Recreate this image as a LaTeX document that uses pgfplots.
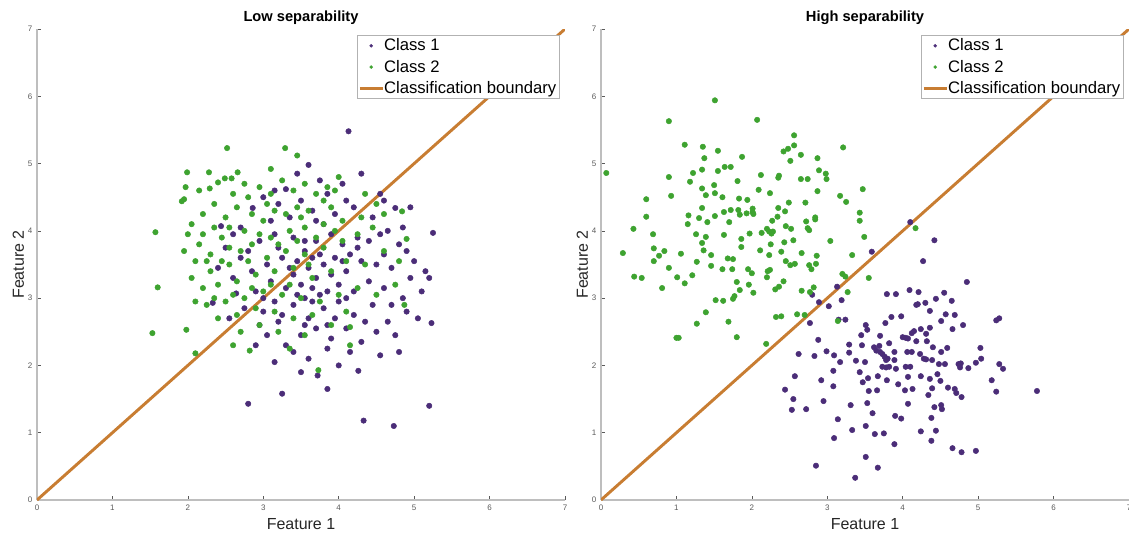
\documentclass[border=0pt]{standalone}
\usepackage{pgfplots}
\usepackage{pgfplotstable}
\pgfplotsset{compat=1.18}
\usepackage{fontspec}
\setmainfont{Liberation Sans}
\definecolor{cpurple}{RGB}{75,45,120}
\definecolor{cgreen}{RGB}{62,163,48}
\definecolor{corange}{RGB}{200,125,50}
\definecolor{caxis}{RGB}{190,190,190}
\definecolor{ctick}{RGB}{90,90,90}
\definecolor{clabel}{RGB}{38,38,38}

\pgfplotstableread{
x y
4.13 5.48
3.60 4.98
3.75 4.75
3.30 4.62
3.45 4.85
4.30 4.85
4.05 4.70
3.85 4.55
3.00 4.50
3.20 4.40
2.86 4.34
4.75 4.34
4.55 4.55
3.50 4.45
3.65 4.30
4.20 4.35
4.45 4.20
2.44 4.07
3.10 4.15
3.35 4.20
3.95 4.25
4.85 4.05
4.65 4.00
5.25 3.97
2.70 4.05
4.10 4.45
3.80 4.10
2.50 3.75
2.70 3.60
2.95 3.85
3.15 3.95
3.40 3.90
3.55 3.70
3.70 3.85
3.90 3.95
4.05 3.80
4.25 3.75
4.40 3.85
4.60 3.65
4.80 3.80
5.00 3.55
5.15 3.40
4.95 3.30
4.70 3.45
4.50 3.50
4.30 3.55
4.10 3.40
3.95 3.60
3.80 3.50
3.60 3.45
3.45 3.55
3.25 3.60
3.05 3.50
2.85 3.40
2.60 3.30
2.40 3.45
2.64 3.07
2.33 2.93
2.90 3.10
3.10 3.25
3.30 3.15
3.50 3.20
3.70 3.30
3.85 3.10
4.00 3.20
4.20 3.10
4.40 3.25
4.60 3.15
4.85 3.00
5.10 3.10
5.20 3.30
3.55 3.00
3.75 3.05
3.40 3.35
3.65 3.60
3.20 3.75
2.80 3.70
4.15 3.65
4.55 3.95
4.90 3.70
2.75 2.85
3.00 2.80
3.20 2.65
3.40 2.90
3.60 2.70
3.80 2.85
4.00 2.95
4.20 2.75
4.45 2.90
4.65 2.65
4.90 2.80
5.05 2.70
5.23 2.63
4.75 2.45
4.50 2.50
4.30 2.35
4.10 2.55
3.90 2.40
3.70 2.55
3.50 2.45
3.30 2.30
3.05 2.45
2.90 2.30
3.15 2.05
3.40 2.20
3.60 2.10
3.85 2.25
4.00 2.00
4.26 1.92
4.55 2.15
3.72 1.85
3.50 1.90
3.85 1.65
3.25 1.58
2.80 1.43
4.33 1.18
4.73 1.10
5.20 1.40
3.95 2.70
3.15 2.95
2.95 2.60
4.80 2.20
4.35 2.65
3.65 2.95
4.10 3.00
3.55 3.85
3.75 3.65
3.35 3.45
3.90 3.35
4.05 3.55
3.45 3.05
3.65 3.15
3.25 2.75
3.85 2.60
4.25 3.90
3.15 4.60
3.70 4.15
2.60 3.95
4.60 4.45
4.95 4.35
3.00 3.00
4.70 2.90
4.15 2.20
3.55 2.60
2.55 2.70
}\lowA

\pgfplotstableread{
x y
1.53 2.48
1.57 3.98
1.60 3.16
1.98 2.53
2.10 2.18
2.52 5.23
3.29 5.23
3.45 5.12
2.82 2.22
3.73 1.93
4.15 2.30
4.15 2.57
4.84 4.29
4.90 3.88
4.87 2.90
1.99 4.87
1.97 4.65
1.95 4.47
2.28 4.87
2.29 4.63
2.40 4.72
2.49 4.78
2.58 4.78
2.66 4.87
3.10 4.92
1.92 4.44
2.05 4.10
2.20 4.25
2.35 4.05
2.50 4.20
2.65 4.35
2.80 4.50
2.95 4.65
3.10 4.55
3.25 4.75
3.40 4.60
3.55 4.70
3.70 4.55
3.85 4.65
4.00 4.80
3.90 4.35
3.60 4.30
3.30 4.25
3.00 4.15
2.75 4.00
2.45 3.90
2.15 3.80
1.95 3.70
2.10 3.55
2.30 3.65
2.55 3.75
2.85 3.80
3.10 3.90
3.35 4.00
3.55 4.05
3.80 4.10
4.05 4.15
4.30 4.20
4.45 4.05
4.60 4.25
4.25 3.95
4.05 3.85
3.80 3.75
3.55 3.65
3.30 3.70
3.05 3.60
2.80 3.55
2.55 3.50
2.30 3.40
2.05 3.30
2.20 3.15
2.40 3.20
2.65 3.25
2.90 3.35
3.15 3.40
3.40 3.45
3.65 3.30
3.90 3.40
4.10 3.55
4.35 3.50
4.60 3.70
4.80 3.55
4.75 3.20
4.50 3.05
4.25 3.15
4.00 3.05
3.75 2.95
3.50 3.00
3.25 3.05
3.00 3.10
2.75 3.00
2.50 2.95
2.25 2.90
2.40 2.70
2.65 2.75
2.90 2.85
3.15 2.80
3.40 2.70
3.65 2.75
3.90 2.60
4.10 2.80
3.55 2.45
3.20 2.50
2.95 2.60
2.70 2.50
2.60 2.30
3.35 2.25
2.15 4.60
2.35 4.40
2.60 4.55
2.85 4.25
3.15 4.30
3.45 4.35
3.70 3.90
3.95 4.00
2.45 3.55
2.70 3.70
2.95 3.95
3.20 3.80
3.45 3.85
2.20 3.95
2.00 3.95
2.60 3.05
2.85 3.15
3.10 3.20
3.35 3.20
3.60 3.50
2.35 3.00
2.10 2.95
2.55 4.05
3.05 4.40
3.50 4.20
3.80 4.45
2.25 3.55
2.75 4.70
4.35 4.55
4.50 4.40
3.95 4.60
}\lowB

\pgfplotstableread{
x y
3.59 3.69
4.27 3.55
4.85 3.24
2.80 3.05
2.89 2.94
3.02 2.88
3.19 2.97
3.13 3.17
3.15 2.68
3.24 2.68
2.77 2.63
2.88 2.38
2.62 2.17
2.83 2.14
2.57 1.84
2.44 1.64
2.55 1.50
2.53 1.34
2.72 1.35
2.92 1.78
2.95 1.47
2.99 2.21
3.08 1.92
3.08 1.69
3.09 2.15
3.17 2.05
3.09 0.92
3.14 1.20
2.85 0.51
3.29 2.31
3.29 2.19
3.31 1.41
3.33 1.04
3.38 2.07
3.43 1.90
3.45 2.45
3.46 2.30
3.47 1.75
3.50 2.05
3.51 2.60
3.53 2.53
3.54 1.81
3.55 1.62
3.53 1.44
3.51 1.10
3.51 0.64
3.37 0.33
3.60 1.29
3.63 0.98
3.66 1.63
3.67 0.48
3.62 2.27
3.65 2.22
3.70 2.20
3.73 2.17
3.76 2.13
3.78 2.08
3.80 2.10
3.82 1.98
3.78 1.97
3.73 1.98
3.70 2.44
3.69 2.29
3.67 1.84
3.75 0.99
3.77 2.63
3.79 1.78
3.79 3.06
3.82 2.33
3.85 2.72
3.89 0.83
3.89 2.20
3.89 2.08
3.91 1.95
3.91 3.06
3.90 1.25
3.94 1.72
3.98 2.73
3.98 1.21
4.00 2.42
4.04 2.41
4.07 2.40
4.03 1.63
4.07 1.43
4.06 2.20
4.04 1.98
4.07 1.83
4.09 3.12
4.13 1.65
4.12 2.20
4.10 1.98
4.12 2.48
4.15 2.51
4.18 2.36
4.18 2.90
4.21 3.09
4.20 2.91
4.23 2.17
4.24 2.54
4.24 1.84
4.24 1.02
4.28 2.10
4.31 2.09
4.30 2.93
4.31 2.47
4.32 2.36
4.34 1.56
4.36 2.81
4.36 2.56
4.39 2.08
4.36 1.80
4.40 2.27
4.39 1.66
4.38 1.22
4.38 0.88
4.42 1.38
4.44 2.99
4.44 1.03
4.46 1.87
4.48 2.02
4.50 1.77
4.51 2.66
4.51 1.41
4.52 1.35
4.51 2.20
4.55 3.08
4.57 2.76
4.56 2.02
4.59 2.26
4.60 1.67
4.65 2.96
4.66 2.54
4.66 0.77
4.69 2.75
4.69 1.65
4.71 1.59
4.74 2.02
4.77 2.03
4.76 1.97
4.78 1.53
4.80 2.60
4.78 0.71
4.87 1.96
4.97 2.04
4.97 0.73
5.03 2.26
5.04 2.10
5.18 1.78
5.24 1.61
5.24 2.67
5.28 2.70
5.28 2.02
5.33 1.95
5.78 1.62
4.10 4.13
4.42 3.86
}\highA

\pgfplotstableread{
x y
0.07 4.86
0.43 4.03
0.29 3.67
0.44 3.32
0.54 3.30
0.60 4.21
0.60 4.47
0.81 3.15
0.70 3.74
0.70 3.55
0.77 3.63
0.84 3.70
0.69 3.95
0.90 4.80
0.90 5.63
0.93 4.52
0.90 3.45
1.01 3.31
1.00 2.41
1.03 2.41
1.06 3.66
1.11 3.22
1.11 5.28
1.15 4.10
1.16 4.23
1.18 4.73
1.21 3.34
1.22 4.86
1.26 3.95
1.27 3.54
1.27 2.62
1.30 4.19
1.34 4.63
1.34 4.91
1.35 5.25
1.34 4.34
1.34 3.82
1.36 3.71
1.37 5.08
1.39 2.79
1.39 3.91
1.39 4.53
1.41 4.13
1.46 3.48
1.46 3.64
1.50 4.68
1.51 4.56
1.51 4.22
1.51 5.94
1.52 2.97
1.55 5.19
1.55 4.89
1.61 4.50
1.61 3.43
1.62 2.96
1.63 4.28
1.63 3.94
1.64 4.95
1.72 4.95
1.68 3.59
1.69 2.65
1.70 4.13
1.72 4.31
1.74 3.43
1.75 3.58
1.75 2.99
1.77 3.03
1.80 3.24
1.80 2.42
1.81 4.74
1.82 4.31
1.83 4.48
1.84 4.24
1.84 3.12
1.86 3.88
1.86 3.76
1.87 5.10
1.93 4.26
1.94 4.46
1.95 3.43
1.96 3.20
1.97 3.96
2.00 3.37
2.01 4.33
2.01 4.28
2.02 3.08
2.02 4.25
2.07 5.65
2.09 4.61
2.12 4.83
2.13 3.97
2.11 3.71
2.20 4.03
2.23 3.99
2.26 3.96
2.20 3.31
2.21 3.40
2.23 3.64
2.24 4.56
2.24 3.42
2.25 3.80
2.27 4.15
2.28 3.99
2.31 3.13
2.32 2.72
2.35 4.79
2.36 4.82
2.34 4.21
2.35 4.34
2.36 3.17
2.39 2.73
2.39 3.69
2.42 3.25
2.43 3.83
2.42 5.18
2.44 4.29
2.45 3.55
2.45 4.07
2.48 5.22
2.49 4.42
2.51 5.04
2.51 3.49
2.52 4.03
2.55 3.86
2.56 5.27
2.56 5.42
2.57 3.51
2.60 2.76
2.65 5.13
2.65 4.77
2.66 3.67
2.66 3.11
2.71 4.42
2.72 4.14
2.74 4.77
2.74 4.04
2.76 4.01
2.76 3.49
2.77 3.09
2.79 3.43
2.82 3.16
2.84 4.20
2.84 4.17
2.86 3.63
2.85 3.51
2.87 5.08
2.87 4.59
2.89 4.90
2.98 4.85
2.99 4.77
3.04 3.85
3.17 4.52
3.20 3.36
3.24 3.32
3.21 5.24
3.25 4.43
3.27 3.09
3.33 3.64
3.43 4.27
3.43 4.15
3.47 4.62
3.49 3.91
3.55 3.30
3.14 2.66
2.19 2.32
2.70 2.75
4.17 4.04
}\highB

\pgfplotsset{
  panel/.style={
    scale only axis, width=396pt, height=353.25pt,
    xmin=0, xmax=7, ymin=0, ymax=7,
    xtick={0,...,7}, ytick={0,...,7},
    axis x line*=bottom, axis y line*=left,
    axis line style={caxis, line width=1.1pt, -},
    tick align=inside, major tick length=3pt,
    tick style={ctick, line width=0.5pt},
    tick label style={font=\fontsize{6}{7}\selectfont, color=ctick},
    /pgf/number format/assume math mode=true,
    xlabel={Feature 1}, ylabel={Feature 2},
    label style={font=\fontsize{12}{14}\selectfont, color=clabel},
    xlabel style={yshift=1pt},
    ylabel style={yshift=-4pt},
    title style={font=\bfseries\fontsize{11}{13}\selectfont, yshift=-6pt},
    legend cell align=left,
    legend style={at={(0.9905,0.987)}, anchor=north east, draw=gray!60,
      font=\fontsize{12.5}{13}\selectfont, inner sep=0.5pt, row sep=1.4pt,
      /tikz/every odd column/.append style={column sep=-2pt}},
    legend image post style={mark size=1.1pt},
  },
  pts/.style={only marks, mark=*, mark size=2.05pt, color=#1, mark options={draw=#1, fill=#1, line width=0.35pt}},
  bound/.style={corange, line width=2.2pt},
}

\begin{document}
\begin{tikzpicture}
\useasboundingbox (0,0) rectangle (846.75pt,399.75pt);
\begin{axis}[panel, at={(27.75pt,24.75pt)}, anchor=south west, title={Low separability}]
\addplot[pts=cpurple] table {\lowA};
\addlegendentry{Class 1}
\addplot[pts=cgreen] table {\lowB};
\addlegendentry{Class 2}
\addplot[bound] coordinates {(0,0) (7,7)};
\addlegendentry{Classification boundary}
\end{axis}
\begin{axis}[panel, at={(450.75pt,24.75pt)}, anchor=south west, title={High separability}]
\addplot[pts=cpurple] table {\highA};
\addlegendentry{Class 1}
\addplot[pts=cgreen] table {\highB};
\addlegendentry{Class 2}
\addplot[bound] coordinates {(0,0) (7,7)};
\addlegendentry{Classification boundary}
\end{axis}
\end{tikzpicture}
\end{document}
